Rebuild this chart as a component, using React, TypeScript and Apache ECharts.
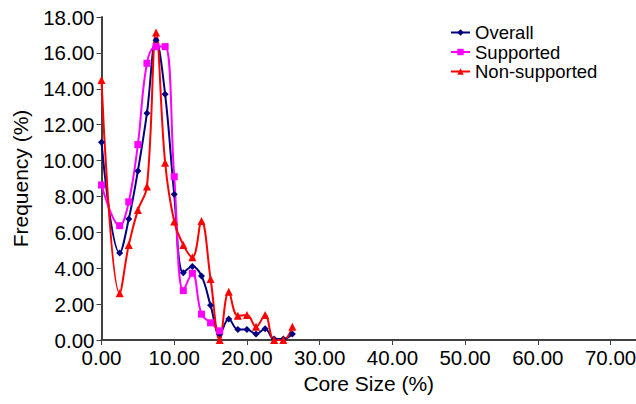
import React, { useEffect, useRef } from "react";
import * as echarts from "echarts";

const xValues = [0, 2.5, 3.75, 5, 6.25, 7.5, 8.75, 10, 11.25, 12.5, 13.75, 15, 16.25, 17.5, 18.75, 20, 21.25, 22.5, 23.75, 25, 26.25];
const overall = [11.02, 4.85, 6.74, 9.42, 12.64, 16.7, 13.69, 8.12, 3.75, 4.09, 3.57, 1.93, 0.32, 1.17, 0.59, 0.59, 0.33, 0.63, 0.05, 0.05, 0.33];
const supported = [8.64, 6.37, 7.7, 10.89, 15.42, 16.35, 16.35, 9.1, 2.75, 3.72, 1.44, 0.96, 0.51];
const nonSupported = [14.49, 2.6, 5.3, 7.24, 8.55, 17.13, 9.88, 6.6, 5.3, 4.61, 6.63, 3.4, 0, 2.69, 1.35, 1.39, 0.74, 1.39, 0, 0, 0.74];
const xTicks = [0, 10, 20, 30, 40, 50, 60, 70];

const FONT = "Liberation Sans, Arial, sans-serif";

function pairs(vals: number[]) {
  return vals.map((v, i) => [xValues[i], v]);
}

export default function App() {
  const ref = useRef<HTMLDivElement>(null);
  useEffect(() => {
    if (!ref.current) return;
    const chart = echarts.init(ref.current, null, { renderer: "svg" });
    const lineSeries = (name: string, vals: number[], color: string, symbol: string, size: number) => ({
      name,
      type: "line",
      data: pairs(vals),
      smooth: 0.4,
      symbol,
      symbolSize: size,
      itemStyle: { color },
      lineStyle: { color, width: 2 },
    });
    chart.setOption({
      animation: false,
      backgroundColor: "#ffffff",
      textStyle: { fontFamily: FONT },
      grid: { left: 101.5, right: 0, top: 17, bottom: 64, outerBoundsMode: "none", containLabel: false },
      legend: {
        orient: "vertical",
        left: 445,
        top: 18,
        itemWidth: 19,
        itemHeight: 8,
        itemGap: 0.5,
        textStyle: { fontFamily: FONT, fontSize: 18.5, color: "#000" },
        data: ["Overall", "Supported", "Non-supported"],
      },
      xAxis: {
        type: "value",
        min: 0,
        max: 73.5,
        interval: 10,
        name: "Core Size (%)",
        nameLocation: "middle",
        nameGap: 32,
        nameTextStyle: { fontFamily: FONT, fontSize: 21, color: "#000" },
        splitLine: { show: false },
        axisLine: { lineStyle: { color: "#404040", width: 2 } },
        axisTick: { show: true, length: 5, lineStyle: { color: "#404040", width: 1 }, customValues: xTicks },
        axisLabel: {
          fontFamily: FONT,
          fontSize: 20.5,
          color: "#000",
          margin: 7,
          customValues: xTicks,
          formatter: (v: number) => v.toFixed(2),
        },
      },
      yAxis: {
        type: "value",
        min: 0,
        max: 18,
        interval: 2,
        name: "Frequency (%)",
        nameLocation: "middle",
        nameGap: 71,
        nameTextStyle: { fontFamily: FONT, fontSize: 21, color: "#000" },
        splitLine: { show: false },
        axisLine: { show: true, lineStyle: { color: "#404040", width: 2 } },
        axisTick: { show: true, length: 5, lineStyle: { color: "#404040", width: 1 } },
        axisLabel: {
          fontFamily: FONT,
          fontSize: 20.5,
          color: "#000",
          margin: 7,
          formatter: (v: number) => v.toFixed(2),
        },
      },
      series: [
        lineSeries("Overall", overall, "#000080", "diamond", 7),
        lineSeries("Supported", supported, "#FF00FF", "rect", 7),
        lineSeries("Non-supported", nonSupported, "#FF0000", "triangle", 8),
      ],
    });
    return () => chart.dispose();
  }, []);
  return <div ref={ref} style={{ width: 636, height: 404, position: "absolute", left: 0, top: 0 }} />;
}
